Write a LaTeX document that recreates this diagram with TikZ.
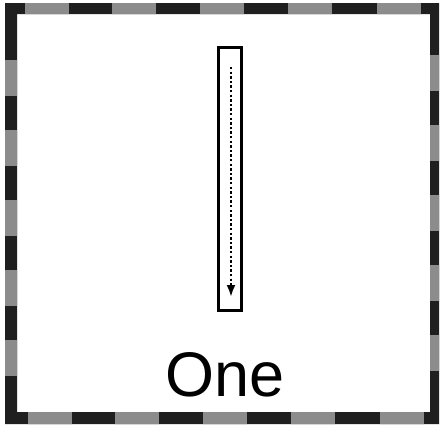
\documentclass[tikz,border=0pt]{standalone}
\usepackage{fontspec}
\setmainfont{Liberation Sans}
\usetikzlibrary{arrows.meta}
\tikzset{
  tubebox/.style={draw=black, line width=2.8pt, minimum width=23.2pt, minimum height=263.2pt, inner sep=0pt},
  flowarrow/.style={line width=2.6pt, dash pattern=on 2.4pt off 2.2pt, -{Latex[length=12pt,width=9pt]}},
  bigtext/.style={font=\fontsize{63}{63}\selectfont, anchor=base, inner sep=0pt},
  bandgray/.style={fill=black!45},
}
\begin{document}
\begin{tikzpicture}[x=1pt,y=-1pt]
\useasboundingbox (0,0) rectangle (440,429);
\fill[white] (0,0) rectangle (440,429);
% frame band
\fill[black!88,even odd rule] (5,3) rectangle (439,424) (17,14) rectangle (430,412);
\begin{scope}[even odd rule]
  \clip (5,3) rectangle (439,424) (17,14) rectangle (430,412);
  \foreach \a in {25,112,200,288,377} {
    \fill[bandgray] (\a,0) rectangle (\a+44,20);
    \fill[bandgray] (\a+3,405) rectangle (\a+47,429);
  }
  \foreach \b in {60,130,200,270,340} {
    \fill[bandgray] (0,\b) rectangle (20,\b+36);
    \fill[bandgray] (425,\b-5) rectangle (440,\b+31);
  }
\end{scope}
% tube
\node[tubebox] (tube) at (230,179) {};
\coordinate (s) at (231,67);
\coordinate (e) at (231,297);
\draw[flowarrow] (s) -- (e);
% label
\node[bigtext] (label) at (225,396) {One};
\end{tikzpicture}
\end{document}
